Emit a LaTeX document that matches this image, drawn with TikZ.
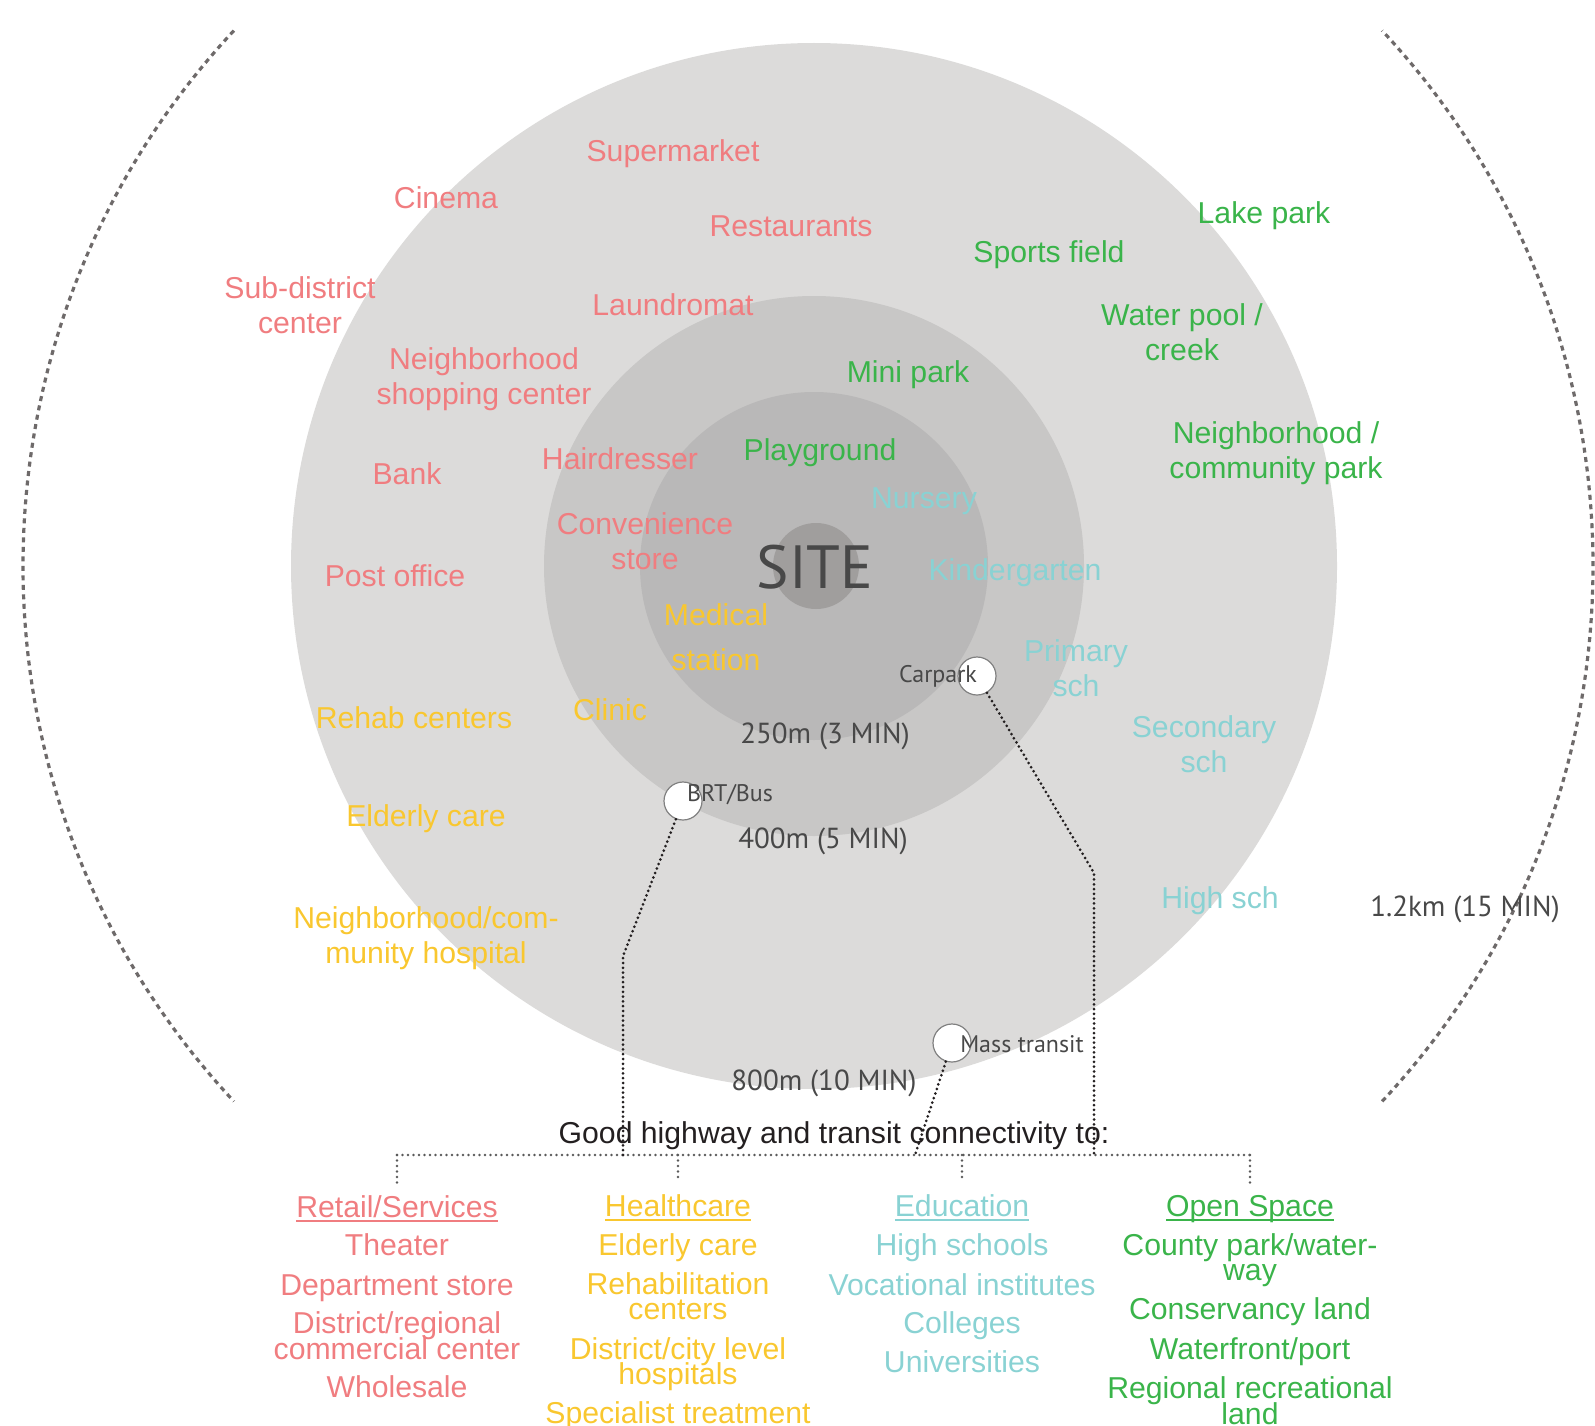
\documentclass[tikz,border=0pt]{standalone}
\usepackage{fontspec}
\setmainfont{Liberation Sans}
\newfontfamily\myriad{PT Sans}
\definecolor{retailcol}{RGB}{240,125,128}
\definecolor{healthcol}{RGB}{249,199,47}
\definecolor{educol}{RGB}{137,210,211}
\definecolor{opencol}{RGB}{58,180,74}
\definecolor{ringa}{RGB}{220,219,218}
\definecolor{ringb}{RGB}{200,199,198}
\definecolor{ringc}{RGB}{185,184,184}
\definecolor{ringd}{RGB}{160,158,157}
\definecolor{inkgray}{RGB}{72,72,72}
\definecolor{inkblack}{RGB}{35,31,32}
\definecolor{dashgray}{RGB}{110,106,106}
\newsavebox\hdrbox
\newcommand{\hdr}[1]{\sbox\hdrbox{#1}\rlap{\rule[-4.5pt]{\wd\hdrbox}{1.8pt}}\usebox\hdrbox}
\newcommand{\tightlines}{\lineskiplimit=-50pt\relax}
\tikzset{
  lbl/.style={font=\fontsize{30.2}{34.6}\selectfont\tightlines, align=center, inner sep=0pt},
  retailtxt/.style={lbl, text=retailcol},
  healthtxt/.style={lbl, text=healthcol},
  edutxt/.style={lbl, text=educol},
  opentxt/.style={lbl, text=opencol},
  disttxt/.style={font=\myriad\fontsize{29}{34}\selectfont, text=inkgray, inner sep=0pt},
  stoptxt/.style={font=\myriad\fontsize{24}{28}\selectfont, text=inkgray, inner sep=0pt},
  stopdot/.style={circle, draw=gray, fill=white, line width=1.2pt, minimum size=38pt, inner sep=0pt},
  listcol/.style={anchor=north, align=center, inner sep=0pt, font=\fontsize{30.2}{25.4}\selectfont\tightlines},
  blackdots/.style={draw=inkblack, line width=3pt, line cap=round, dash pattern=on 0pt off 4.8pt},
  greydots/.style={draw=gray!70!black, line width=2.6pt, line cap=round, dash pattern=on 0pt off 5.5pt},
  bigdash/.style={draw=dashgray, line width=3.2pt, dash pattern=on 5pt off 4.5pt}
}
\begin{document}
\begin{tikzpicture}[x=1pt,y=-1pt]
\useasboundingbox (0,0) rectangle (1595,1426);
\coordinate (c) at (814,566);
\fill[ringa] (c) circle[radius=523pt];
\fill[ringb] (c) circle[radius=270pt];
\fill[ringc] (c) circle[radius=174pt];
\fill[ringd] (816,566) circle[radius=43pt];
\coordinate (o) at (808,566);
\draw[bigdash] (o) ++(137:785pt) arc[start angle=137, end angle=223, radius=785pt];
\draw[bigdash] (o) ++(-43:785pt) arc[start angle=-43, end angle=43, radius=785pt];

\node[retailtxt] (supermarket) at (673,154) {Supermarket};
\node[retailtxt] (cinema) at (446,198) {Cinema};
\node[retailtxt] (restaurants) at (791,226) {Restaurants};
\node[retailtxt] (subdistrict) at (300,305) {Sub-district\\center};
\node[retailtxt] (laundromat) at (673,305) {Laundromat};
\node[retailtxt] (shopping) at (484,379) {Neighborhood\\shopping center};
\node[retailtxt] (hairdresser) at (620,459) {Hairdresser};
\node[retailtxt] (bank) at (407,474) {Bank};
\node[retailtxt] (convenience) at (645,541) {Convenience\\store};
\node[retailtxt] (postoffice) at (395,576) {Post office};

\node[healthtxt] (medical) at (716,637) {Medical\\[10.4pt]station};
\node[healthtxt] (clinic) at (610,710) {Clinic};
\node[healthtxt] (rehab) at (414,718) {Rehab centers};
\node[healthtxt] (elderly) at (426,819) {Elderly care};
\node[healthtxt] (hospital) at (426,938) {Neighborhood/com-\\munity hospital};

\node[opentxt] (lakepark) at (1264,216) {Lake park};
\node[opentxt] (sports) at (1049,255) {Sports field};
\node[opentxt] (waterpool) at (1182,332) {Water pool /\\creek};
\node[opentxt] (minipark) at (908,375) {Mini park};
\node[opentxt] (commpark) at (1276,453) {Neighborhood /\\community park};
\node[opentxt] (playground) at (820,453) {Playground};

\node[edutxt] (nursery) at (924,501) {Nursery};
\node[edutxt] (kinder) at (1015,573) {Kindergarten};
\node[edutxt] (primary) at (1076,668) {Primary\\sch};
\node[edutxt] (secondary) at (1204,744) {Secondary\\sch};
\node[edutxt] (highsch) at (1220,901) {High sch};

\node[disttxt, font=\myriad\fontsize{61}{66}\selectfont] (site) at (815,567) {SITE};
\node[disttxt] (d250) at (825,736) {250m (3 MIN)};
\node[disttxt] (d400) at (823,841) {400m (5 MIN)};
\node[disttxt] (d800) at (824,1083) {800m (10 MIN)};
\node[disttxt] (d1200) at (1465,909) {1.2km (15 MIN)};

\node[stopdot] (car) at (977,676) {};
\node[stopdot] (bus) at (683,801) {};
\node[stopdot] (mass) at (952,1043) {};
\node[stoptxt] (cartxt) at (938,676) {Carpark};
\node[stoptxt] (bustxt) at (730,795) {BRT/Bus};
\node[stoptxt] (masstxt) at (1022,1044) {Mass transit};

\node[lbl, text=inkblack] (conn) at (834,1136) {Good highway and transit connectivity to:};

\node[listcol, text=retailcol] (retaillist) at (397,1195) {\hdr{Retail/Services}\\[13pt]Theater\\[15pt]Department store\\[12.6pt]District/regional\\commercial center\\[12.6pt]Wholesale};
\node[listcol, text=healthcol] (healthlist) at (678,1194) {\hdr{Healthcare}\\[13.6pt]Elderly care\\[13.6pt]Rehabilitation\\centers\\[14.6pt]District/city level\\hospitals\\[13.6pt]Specialist treatment};
\node[listcol, text=educol] (edulist) at (962,1194) {\hdr{Education}\\[13.6pt]High schools\\[14.6pt]Vocational institutes\\[12.6pt]Colleges\\[13.6pt]Universities};
\node[listcol, text=opencol] (openlist) at (1250,1195) {\hdr{Open Space}\\[13.6pt]County park/water-\\way\\[13.2pt]Conservancy land\\[14.6pt]Waterfront/port\\[14pt]Regional recreational\\land};

\coordinate (hub) at (0,1155);
\draw[greydots] (retaillist.north |- hub) -- (openlist.north |- hub);
\foreach \col in {retaillist,healthlist,edulist,openlist}
  \draw[greydots] (\col.north |- hub) -- ([yshift=12pt]\col.north);

\coordinate (busbend) at (623,956);
\coordinate (carbend) at (1094,873);
\draw[blackdots] (bus) -- (busbend) -- (busbend |- hub);
\draw[blackdots] (car) -- (carbend) -- (carbend |- hub);
\draw[blackdots] (mass) -- (915,1155);
\end{tikzpicture}
\end{document}
